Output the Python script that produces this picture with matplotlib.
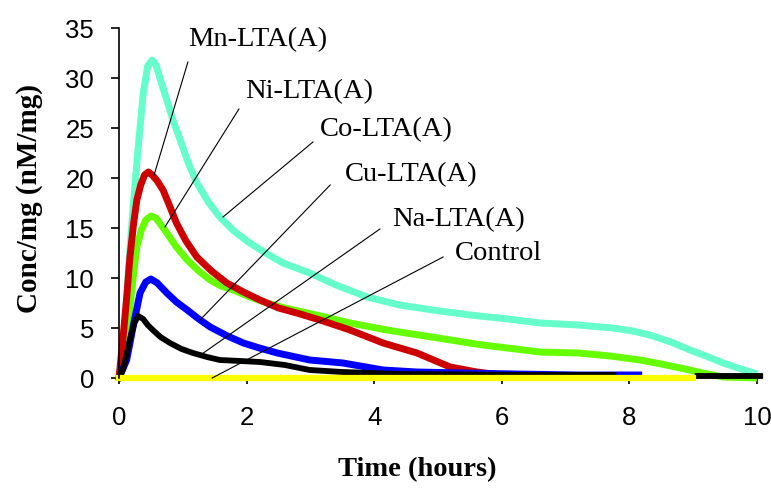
import numpy as np
import matplotlib.pyplot as plt

# time (hours) / concentration (nM/mg) for each sample
mn_t = [0.0, 0.06, 0.12, 0.17, 0.23, 0.28, 0.34, 0.40, 0.46, 0.52, 0.60, 0.69, 0.80, 0.90, 1.05,
        1.22, 1.45, 1.69, 1.95, 2.21, 2.5, 2.84, 3.2, 3.62, 4.14, 4.67, 5.19, 5.61, 6.1]
mn_c = [0.0, 3.8, 8.0, 12.0, 15.5, 17.8, 19.3, 20.3, 20.6, 20.3, 19.7, 18.8, 17.1, 15.5, 13.7,
        12.1, 10.7, 9.5, 8.6, 7.8, 7.0, 6.4, 5.7, 4.8, 3.5, 2.5, 1.1, 0.6, 0.2]

co_t = [0.0, 0.08, 0.15, 0.22, 0.30, 0.38, 0.45, 0.52, 0.58, 0.65, 0.75, 0.85, 0.96, 1.08, 1.22,
        1.4, 1.58, 1.8, 2.05, 2.3, 2.57, 2.99, 3.4, 3.89, 4.4, 4.92, 5.5, 6.1, 6.6, 7.2, 7.74,
        8.05, 8.32, 8.65, 8.95, 9.2, 9.47, 9.75, 10.0]
co_c = [0.0, 3.0, 11.0, 17.0, 23.0, 28.5, 31.2, 31.8, 31.3, 29.8, 27.8, 25.7, 23.8, 21.6, 19.5,
        17.6, 16.1, 14.7, 13.5, 12.5, 11.5, 10.5, 9.3, 8.1, 7.3, 6.8, 6.3, 5.9, 5.5, 5.3, 5.0,
        4.7, 4.3, 3.6, 2.8, 2.2, 1.5, 0.9, 0.4]

ni_t = [0.0, 0.09, 0.17, 0.23, 0.28, 0.35, 0.42, 0.5, 0.58, 0.66, 0.75, 0.9, 1.07, 1.25, 1.43,
        1.6, 1.79, 2.05, 2.32, 2.6, 2.95, 3.3, 3.62, 4.2, 4.9, 5.7, 6.6, 7.2, 7.7, 8.17, 8.5,
        8.8, 9.15, 9.47, 10.0]
ni_c = [0.0, 2.0, 7.0, 10.5, 13.1, 14.8, 15.8, 16.2, 16.0, 15.3, 14.5, 13.1, 11.8, 10.7, 9.8,
        9.2, 8.8, 8.1, 7.5, 7.0, 6.5, 6.0, 5.5, 4.8, 4.1, 3.3, 2.6, 2.5, 2.2, 1.8, 1.4,
        1.0, 0.5, 0.1, 0.0]

cu_t = [0.0, 0.12, 0.22, 0.33, 0.42, 0.5, 0.6, 0.75, 0.9, 1.07, 1.25, 1.43, 1.7, 1.95, 2.2,
        2.48, 2.99, 3.51, 4.14, 4.67, 5.4, 6.2, 7.2, 8.2]
cu_c = [0.0, 1.8, 5.1, 8.5, 9.6, 9.9, 9.5, 8.5, 7.6, 6.8, 5.9, 5.1, 4.2, 3.5, 3.0,
        2.5, 1.8, 1.5, 0.8, 0.6, 0.5, 0.4, 0.3, 0.3]

na_t = [0.0, 0.06, 0.12, 0.17, 0.24, 0.30, 0.38, 0.45, 0.53, 0.65, 0.8, 0.98, 1.16, 1.38, 1.58,
        1.9, 2.21, 2.6, 2.99, 3.5, 4.4, 5.5, 6.5, 7.75, np.nan, 9.07, 10.05]
na_c = [0.0, 0.8, 2.3, 3.8, 5.5, 6.2, 5.9, 5.3, 4.8, 4.1, 3.5, 2.9, 2.5, 2.1, 1.8,
        1.7, 1.6, 1.3, 0.8, 0.6, 0.4, 0.35, 0.3, 0.3, np.nan, 0.2, 0.2]

ctrl_t = [0.0, 9.0]
ctrl_c = [0.0, 0.0]

# label text, text anchor, leader line ends
labels = ["Mn-LTA(A)", "Ni-LTA(A)", "Co-LTA(A)", "Cu-LTA(A)", "Na-LTA(A)", "Control"]
label_xy = [(1.08, 33.8), (1.97, 28.6), (3.15, 24.8), (3.54, 20.3), (4.28, 15.8), (5.27, 12.5)]
line_start = [(1.08, 31.6), (1.88, 26.9), (3.04, 23.6), (3.31, 19.3), (4.09, 14.9), (5.08, 12.1)]
line_end = [(0.55, 20.3), (0.72, 15.1), (1.63, 16.1), (1.27, 5.8), (1.30, 2.4), (1.46, 0.0)]

fig = plt.figure(figsize=(7.71, 4.88), dpi=100)
ax = fig.add_axes([119 / 771, 110 / 488, 10.15 * 63.8 / 771, 350 / 488])

kw = dict(lw=5, solid_joinstyle="round", solid_capstyle="butt", clip_on=False)
ax.plot(co_t, co_c, color="#66FFCC", **kw)
ax.plot(ni_t, ni_c, color="#66FF00", **kw)
ax.plot(mn_t, mn_c, color="#CC0000", **kw)
ax.plot(cu_t, cu_c, color="#0000FF", **kw)
ax.plot(na_t, na_c, color="black", lw=4.2, solid_joinstyle="round", clip_on=False)
ax.plot(ctrl_t, ctrl_c, color="#FFFF00", lw=4.5, clip_on=False)

for txt, (tx, ty), (x0, y0), (x1, y1) in zip(labels, label_xy, line_start, line_end):
    ax.plot([x0, x1], [y0, y1], color="black", lw=0.8, clip_on=False)
    ax.text(tx, ty, txt, family="Liberation Serif", fontsize=20.5, va="center", ha="left")

ax.set_xlim(0, 10.15)
ax.set_ylim(0, 35)
ax.set_xticks([0, 2, 4, 6, 8, 10])
ax.set_yticks(range(0, 36, 5))
for s in ["top", "right", "bottom"]:
    ax.spines[s].set_visible(False)
ax.spines["left"].set_linewidth(1.2)
ax.tick_params(axis="y", direction="out", length=6, width=1.2, pad=12)
ax.tick_params(axis="x", direction="out", length=4, width=1.2, pad=16)
for lab in ax.get_xticklabels() + ax.get_yticklabels():
    lab.set_family("Liberation Sans")
    lab.set_fontsize(18.5)

fig.text(417 / 771, 1 - 470 / 488, "Time (hours)", family="Liberation Serif",
         weight="bold", fontsize=20.5, ha="center", va="center")
fig.text(30 / 771, 1 - 198 / 488, "Conc/mg (nM/mg)", family="Liberation Serif",
         weight="bold", fontsize=21, ha="center", va="center", rotation=90)

fig.savefig("out.png", dpi=100)
